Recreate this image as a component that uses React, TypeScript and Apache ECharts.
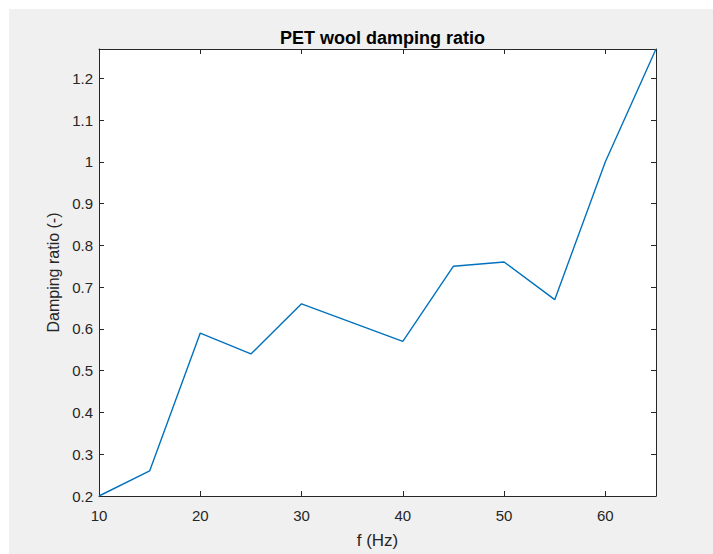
import React, { useEffect, useRef } from "react";
import * as echarts from "echarts";

const freqHz = [10, 15, 20, 25, 30, 35, 40, 45, 50, 55, 60, 65];
const dampingRatio = [0.2, 0.26, 0.59, 0.54, 0.66, 0.615, 0.57, 0.75, 0.76, 0.67, 1.0, 1.27];
const titleText = "PET wool damping ratio";
const xName = "f (Hz)";
const yName = "Damping ratio (-)";

export default function App() {
  const ref = useRef<HTMLDivElement>(null);
  useEffect(() => {
    document.body.style.margin = "0";
    document.body.style.overflow = "hidden";
    document.documentElement.style.overflow = "hidden";
    if (!ref.current) return;
    const chart = echarts.init(ref.current, undefined, { renderer: "svg" });
    const font = "'Liberation Sans', Arial, Helvetica, sans-serif";
    const axisColor = "#262626";
    const boxAxis = (extra: any) => ({
      type: "value",
      axisLine: { show: true, lineStyle: { color: axisColor, width: 1 } },
      axisTick: { show: true, inside: true, length: 5, lineStyle: { color: axisColor, width: 1 } },
      splitLine: { show: false },
      ...extra,
    });
    const data = freqHz.map((f, i) => [f, dampingRatio[i]]);
    chart.setOption({
      animation: false,
      backgroundColor: "#f0f0f0",
      title: {
        text: titleText,
        left: 368.5,
        top: 15,
        textAlign: "center",
        textStyle: { fontFamily: font, fontSize: 18, fontWeight: "bold", color: "#000" },
      },
      grid: { left: 90, right: 57, top: 40, bottom: 52, containLabel: false, show: true, backgroundColor: "#fff", borderWidth: 0 },
      xAxis: [
        boxAxis({
          min: 10,
          max: 65,
          interval: 10,
          position: "bottom",
          name: xName,
          nameLocation: "middle",
          nameGap: 36,
          nameTextStyle: { fontFamily: font, fontSize: 17, color: axisColor },
          axisLabel: { show: true, showMaxLabel: false, fontFamily: font, fontSize: 15, color: axisColor, margin: 12 },
        }),
        boxAxis({
          min: 10,
          max: 65,
          interval: 10,
          position: "top",
          axisLabel: { show: false },
        }),
      ],
      yAxis: [
        boxAxis({
          min: 0.2,
          max: 1.27,
          interval: 0.1,
          position: "left",
          name: yName,
          nameLocation: "middle",
          nameGap: 38,
          nameTextStyle: { fontFamily: font, fontSize: 16, color: axisColor },
          axisLabel: { show: true, showMaxLabel: false, fontFamily: font, fontSize: 15, color: axisColor, margin: 6 },
        }),
        boxAxis({
          min: 0.2,
          max: 1.27,
          interval: 0.1,
          position: "right",
          axisLabel: { show: false },
        }),
      ],
      series: [
        {
          type: "line",
          data,
          xAxisIndex: 0,
          yAxisIndex: 0,
          showSymbol: false,
          symbol: "none",
          lineStyle: { color: "#0072BD", width: 1.4 },
        },
      ],
    });
    return () => chart.dispose();
  }, []);
  return (
    <div
      style={{ position: "absolute", left: 0, top: 0, width: 713, height: 554, background: "#fff", overflow: "hidden" }}
    >
      <div
        ref={ref}
        style={{ position: "absolute", left: 9, top: 9, width: 704, height: 545 }}
      />
    </div>
  );
}
